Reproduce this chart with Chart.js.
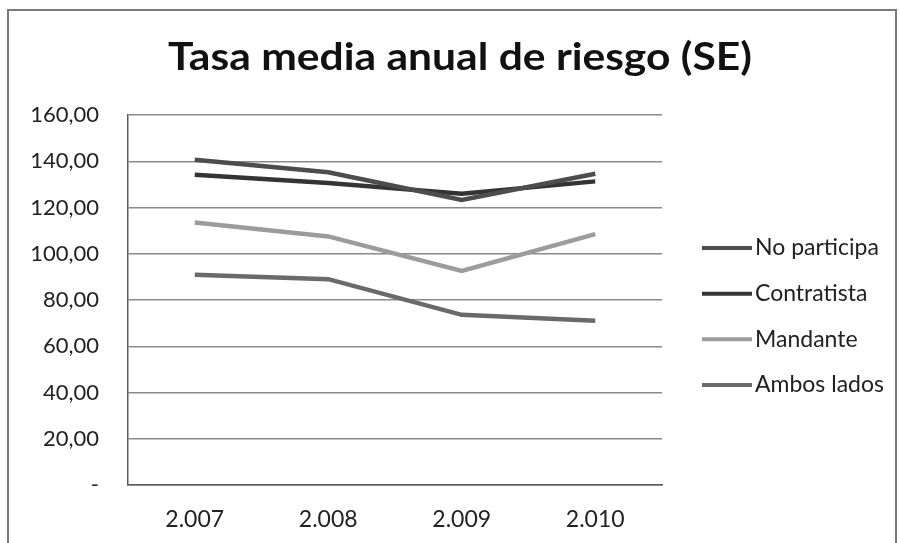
<!DOCTYPE html>
<html>
<head>
<meta charset="utf-8">
<script src="https://cdn.jsdelivr.net/npm/chart.js@4.4.1/dist/chart.umd.min.js"></script>
<style>
  html, body { margin: 0; padding: 0; background: #fff; }
  #wrap { width: 900px; height: 543px; position: relative; }
</style>
</head>
<body>
<div id="wrap"><canvas id="chart" width="900" height="543"></canvas></div>
<script>
// Years shown on the category axis
const years = ['2.007', '2.008', '2.009', '2.010'];

// Average annual risk rate per group
const noParticipa = [140.6, 135.2, 123.3, 134.6];
const contratista = [134.2, 130.6, 126.0, 131.3];
const mandante    = [113.5, 107.5, 92.6, 108.5];
const ambosLados  = [90.9, 89.0, 73.6, 71.0];

const seriesNames = ['No participa', 'Contratista', 'Mandante', 'Ambos lados'];
const seriesColors = ['#4d4d4d', '#343434', '#9c9c9c', '#6a6a6a'];
const seriesValues = [noParticipa, contratista, mandante, ambosLados];

const chartTitle = 'Tasa media anual de riesgo (SE)';

const FONT = 'Lato, "Open Sans", sans-serif';

// Outer frame around the chart
const framePlugin = {
  id: 'frame',
  beforeDraw(chart) {
    const ctx = chart.ctx;
    ctx.save();
    ctx.fillStyle = '#ffffff';
    ctx.fillRect(0, 0, chart.width, chart.height);
    ctx.strokeStyle = '#7a7a7a';
    ctx.lineWidth = 2;
    ctx.strokeRect(8, 10, chart.width - 12, chart.height + 10);
    ctx.restore();
  }
};

// Bold heading centred over the plot and legend, fitted to a set width
const headingPlugin = {
  id: 'heading',
  afterDraw(chart, args, opts) {
    const ctx = chart.ctx;
    ctx.save();
    ctx.font = 'bold ' + opts.fontSize + 'px ' + FONT;
    ctx.fillStyle = '#111';
    ctx.textAlign = 'center';
    ctx.textBaseline = 'alphabetic';
    const w = ctx.measureText(opts.text).width;
    const sx = opts.width / w;
    ctx.translate(opts.centerX, opts.baseline);
    ctx.scale(sx, 1);
    ctx.fillText(opts.text, 0, 0);
    ctx.restore();
  }
};

// Legend drawn to the right of the plot: line sample followed by the series name
const sideLegend = {
  id: 'sideLegend',
  afterDraw(chart, args, opts) {
    const ctx = chart.ctx;
    const area = chart.chartArea;
    const x0 = area.right + opts.gap;
    const mid = (area.top + area.bottom) / 2 + opts.shiftY;
    const n = chart.data.datasets.length;
    ctx.save();
    ctx.font = opts.fontSize + 'px ' + FONT;
    ctx.textBaseline = 'middle';
    ctx.textAlign = 'left';
    chart.data.datasets.forEach((ds, i) => {
      const y = mid + (i - (n - 1) / 2) * opts.spacing;
      ctx.strokeStyle = ds.borderColor;
      ctx.lineWidth = 4;
      ctx.beginPath();
      ctx.moveTo(x0, y);
      ctx.lineTo(x0 + opts.sample, y);
      ctx.stroke();
      ctx.fillStyle = '#222';
      ctx.fillText(ds.label, x0 + opts.sample + 3, y);
    });
    ctx.restore();
  }
};

new Chart(document.getElementById('chart'), {
  type: 'line',
  data: {
    labels: years,
    datasets: seriesNames.map((name, i) => ({
      label: name,
      data: seriesValues[i],
      borderColor: seriesColors[i],
      backgroundColor: seriesColors[i],
      borderWidth: 4.5,
      pointRadius: 0,
      tension: 0,
      fill: false
    }))
  },
  options: {
    responsive: false,
    animation: false,
    layout: { padding: { left: 20, right: 238, top: 115, bottom: 0 } },
    plugins: {
      title: { display: false },
      legend: { display: false },
      tooltip: { enabled: false },
      heading: { text: chartTitle, fontSize: 38, width: 584, centerX: 460, baseline: 70 },
      sideLegend: { gap: 40, sample: 50, spacing: 45.7, shiftY: 16.5, fontSize: 23 }
    },
    scales: {
      x: {
        offset: true,
        grid: { display: false, drawTicks: false },
        border: { color: '#5a5a5a', width: 1.5 },
        ticks: { color: '#222', font: { family: FONT, size: 23 }, padding: 21 },
        afterFit(s) { s.height = 58; }
      },
      y: {
        min: 0,
        max: 160,
        grid: { color: '#8a8a8a', lineWidth: 1.5, drawTicks: false },
        border: { color: '#5a5a5a', width: 1.5 },
        ticks: {
          stepSize: 20,
          color: '#222',
          font: { family: FONT, size: 22 },
          padding: 29,
          callback(v) {
            return v === 0 ? '-' : v.toFixed(2).replace('.', ',');
          }
        },
        afterFit(s) { s.width = 108; }
      }
    }
  },
  plugins: [framePlugin, headingPlugin, sideLegend]
});
</script>
</body>
</html>
